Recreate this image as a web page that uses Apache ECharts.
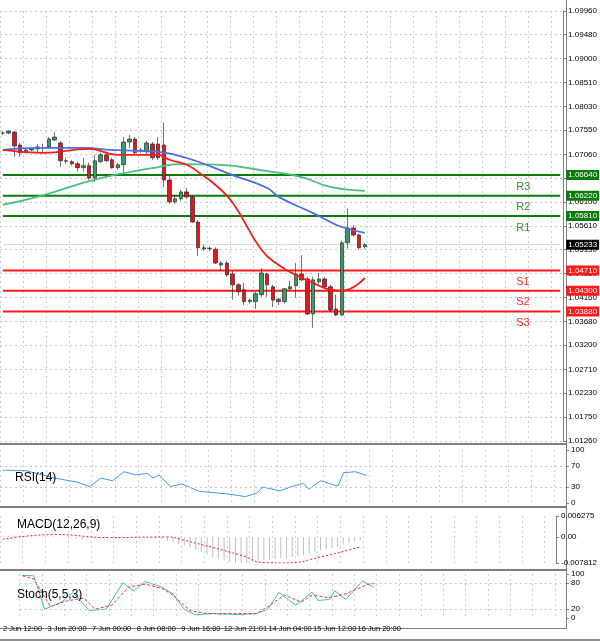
<!DOCTYPE html>
<html>
<head>
<meta charset="utf-8">
<script src="https://cdn.jsdelivr.net/npm/echarts@6/dist/echarts.min.js"></script>
<style>html,body{margin:0;padding:0;background:#fff}#main{width:600px;height:641px}</style>
</head>
<body>
<div id="main"></div>
<script>
// candles: [open, close, low, high]
const candles = [
  [1.0749,1.0749,1.0745,1.0753],[1.0749,1.0753,1.0747,1.0755],[1.0751,1.0723,1.0701,1.0753],[1.0725,1.0709,1.0701,1.0729],
  [1.0711,1.0715,1.0709,1.0717],[1.0715,1.0717,1.0713,1.0719],[1.0717,1.0721,1.0709,1.0727],[1.0719,1.0720,1.0709,1.0727],
  [1.0721,1.0737,1.0717,1.0741],[1.0735,1.0741,1.0733,1.0751],[1.0729,1.0693,1.0681,1.0733],[1.0693,1.0692,1.0687,1.0699],
  [1.0691,1.0687,1.0683,1.0695],[1.0687,1.0679,1.0671,1.0691],[1.0679,1.0683,1.0671,1.0699],[1.0683,1.0658,1.0654,1.0689],
  [1.0658,1.0693,1.0650,1.0705],[1.0691,1.0705,1.0689,1.0709],[1.0705,1.0693,1.0691,1.0707],[1.0695,1.0679,1.0677,1.0699],
  [1.0679,1.0685,1.0675,1.0689],[1.0685,1.0731,1.0669,1.0741],[1.0731,1.0737,1.0719,1.0745],[1.0737,1.0709,1.0707,1.0741],
  [1.0713,1.0715,1.0709,1.0719],[1.0711,1.0729,1.0707,1.0733],[1.0727,1.0699,1.0695,1.0731],[1.0727,1.0699,1.0695,1.0741],
  [1.0725,1.0654,1.0640,1.0770],[1.0654,1.0610,1.0606,1.0664],[1.0610,1.0616,1.0606,1.0624],[1.0616,1.0630,1.0612,1.0634],
  [1.0630,1.0620,1.0616,1.0638],[1.0620,1.0569,1.0567,1.0624],[1.0569,1.0517,1.0500,1.0573],[1.0517,1.0515,1.0511,1.0523],
  [1.0515,1.0516,1.0510,1.0520],[1.0514,1.0486,1.0484,1.0518],[1.0482,1.0486,1.0470,1.0490],[1.0486,1.0462,1.0458,1.0490],
  [1.0464,1.0442,1.0412,1.0470],[1.0442,1.0428,1.0420,1.0446],[1.0432,1.0408,1.0401,1.0446],[1.0408,1.0411,1.0404,1.0414],
  [1.0408,1.0424,1.0393,1.0428],[1.0422,1.0466,1.0418,1.0476],[1.0464,1.0442,1.0418,1.0466],[1.0438,1.0411,1.0397,1.0442],
  [1.0413,1.0408,1.0401,1.0416],[1.0408,1.0434,1.0404,1.0436],[1.0434,1.0438,1.0430,1.0450],[1.0440,1.0464,1.0416,1.0486],
  [1.0464,1.0452,1.0450,1.0502],[1.0454,1.0383,1.0381,1.0458],[1.0383,1.0452,1.0355,1.0458],[1.0448,1.0454,1.0444,1.0466],
  [1.0454,1.0438,1.0434,1.0458],[1.0438,1.0391,1.0387,1.0442],[1.0393,1.0381,1.0379,1.0422],[1.0381,1.0527,1.0379,1.0531],
  [1.0527,1.0557,1.0515,1.0597],[1.0557,1.0543,1.0539,1.0563],[1.0543,1.0517,1.0513,1.0545],[1.0519,1.0523,1.0515,1.0527]
];
// moving averages, sampled [index, value]
const maFast = [[0,1.0715],[7,1.0709],[15,1.0717],[20,1.0705],[27,1.0705],[29,1.0695],[32,1.0685],[34,1.0670],[37,1.0644],[40,1.0608],[45,1.0513],[48,1.0482],[51,1.0462],[54,1.0446],[57,1.0432],[59,1.0430],[63,1.0456]];
const maMid = [[0,1.0715],[6,1.0719],[14,1.0719],[19,1.0715],[27,1.0711],[30,1.0705],[34,1.0691],[40,1.0664],[46,1.0638],[48,1.0620],[54,1.0587],[57,1.0569],[59,1.0559],[63,1.0547]];
const maSlow = [[0,1.0604],[6,1.0620],[17,1.0658],[26,1.0678],[31,1.0686],[37,1.0685],[46,1.0672],[52,1.0660],[57,1.0640],[63,1.0632]];
const resist = [['R1',1.0581],['R2',1.0622],['R3',1.0664]];
const support = [['S1',1.0471],['S2',1.0430],['S3',1.0388]];
const lastPrice = 1.05233;
const priceTicks = [1.0996,1.0948,1.0900,1.0851,1.0803,1.0755,1.0706,1.0658,1.0610,1.0561,1.0513,1.0465,1.0416,1.0368,1.0320,1.0271,1.0223,1.0175,1.0126];

const rsi = [[0,62],[4,61],[9,47],[13,39],[15,31],[17,47],[19,42],[21,59],[23,53],[25,56],[26,47],[27,53],[29,31],[31,36],[34,22],[36,20],[39,17],[42,12],[44,19],[45,30],[48,23],[50,31],[52,37],[53,26],[55,42],[58,32],[59,57],[61,59],[63,52]];
const macdHist = [0.0003,0.0004,0.0004,0.0004,0.0003,0.0003,0.0002,0.0002,0.0002,0.0001,0.0001,0,
  -0.0004,-0.0005,-0.0006,-0.0005,-0.0004,-0.0003,-0.0002,
  -0.0001,0,0.0001,0,0,-0.0001,-0.0002,-0.0003,-0.0005,-0.0008,
  -0.0012,-0.0016,-0.0021,-0.0025,-0.0032,-0.0039,-0.0046,-0.0053,-0.0060,-0.0066,
  -0.0071,-0.0075,-0.0078,-0.0079,-0.0077,-0.0074,-0.0072,-0.0070,-0.0068,-0.0066,
  -0.0065,-0.0063,-0.0060,-0.0057,-0.0054,-0.0050,-0.0046,-0.0041,-0.0037,-0.0033,
  -0.0028,-0.0023,-0.0018,-0.0014,-0.0010];
const macdSignal = [[0,-0.0007],[9,0.0007],[19,-0.0002],[29,0],[32,-0.0010],[42,-0.0055],[46,-0.0077],[50,-0.0078],[56,-0.0060],[63,-0.0030]];
const stochK = [[0,97],[2,96],[4,20],[7,36],[9,58],[12,17],[15,20],[18,80],[20,61],[22,83],[25,70],[27,55],[29,20],[31,7],[34,10],[39,8],[42,10],[44,20],[46,58],[49,29],[52,59],[53,40],[55,42],[56,62],[58,42],[61,84],[63,70]];
const stochD = [[0,96],[2,89],[5,26],[8,39],[11,45],[13,20],[16,29],[19,70],[22,77],[25,67],[27,52],[30,17],[33,10],[42,10],[44,26],[47,52],[50,36],[52,52],[55,46],[58,55],[62,77],[63,78]];
const dateLabels = ['2 Jun 12:00','3 Jun 20:00','7 Jun 00:00','8 Jun 08:00','9 Jun 16:00','12 Jun 21:01','14 Jun 04:00','15 Jun 12:00','16 Jun 20:00'];

const SLOTS = 98;
const cats = [];
for (let i = 0; i < SLOTS; i++) cats.push(i % 8 === 0 && dateLabels[i / 8] ? dateLabels[i / 8] : '');

const chart = echarts.init(document.getElementById('main'));
const lab = {color: '#000', fontSize: 8, fontFamily: 'Liberation Sans'};
const dash = {show: true, lineStyle: {color: '#c8c8c8', type: [2, 3]}};

function xAx(gi, showLabel) {
  return {
    type: 'category', gridIndex: gi, data: cats, boundaryGap: true,
    axisLine: {show: false}, axisTick: {show: false},
    axisLabel: {show: showLabel, interval: 0, ...lab, fontSize: 7.5, margin: 7},
    splitLine: {show: true, interval: (i) => i % 4 === 0, lineStyle: {color: '#d0d0d0', type: [2, 3]}}
  };
}
function yAx(gi, min, max, vals, fmt) {
  return {
    type: 'value', gridIndex: gi, position: 'right', min: min, max: max, scale: true,
    axisLine: {show: true, lineStyle: {color: '#808080'}},
    axisTick: {show: true, customValues: vals, length: 3, lineStyle: {color: '#808080'}},
    axisLabel: {customValues: vals, formatter: fmt, ...lab, margin: 5, hideOverlap: false},
    splitLine: dash
  };
}

// one horizontal line series per level
function levelSeries(name, v, col, textCol, width) {
  return {
    type: 'line', xAxisIndex: 0, yAxisIndex: 0, silent: true, z: 1,
    data: [[0, v], {value: [SLOTS - 1, v], label: name ? {show: true, formatter: name, color: textCol, fontSize: 11,
      position: [-44, 6], fontFamily: 'Liberation Sans'} : {show: false}}],
    showSymbol: true, symbolSize: 0,
    lineStyle: {color: col, width: width},
    endLabel: {show: true, formatter: v.toFixed(5), color: '#fff', backgroundColor: name ? col : '#000',
      fontSize: 8, padding: [1, 2], distance: 6, fontFamily: 'Liberation Sans'}
  };
}
const levelList = [];
resist.forEach(r => levelList.push(levelSeries(r[0], r[1], '#0a7d0a', '#2d9a2d', 2)));
support.forEach(s => levelList.push(levelSeries(s[0], s[1], '#ff1a1a', '#ff2a2a', 2)));
levelList.push(levelSeries('', lastPrice, '#d8d8d8', '#000', 1));

const titleStyle = {fontSize: 12, fontWeight: 'normal', color: '#000', fontFamily: 'Liberation Sans'};
const option = {
  animation: false,
  backgroundColor: '#fff',
  title: [
    {text: 'RSI(14)', left: 10, top: 467, textStyle: titleStyle},
    {text: 'MACD(12,26,9)', left: 12, top: 514, textStyle: titleStyle},
    {text: 'Stoch(5,5,3)', left: 12, top: 584, textStyle: titleStyle}
  ],
  grid: [
    {left: 0, right: 34, top: 11, bottom: 200},
    {left: 0, right: 34, top: 450, bottom: 138},
    {left: 0, right: 34, top: 516, bottom: 78},
    {left: 0, right: 34, top: 574, bottom: 23}
  ],
  xAxis: [xAx(0, false), xAx(1, false), xAx(2, false), xAx(3, true)],
  yAxis: [
    yAx(0, 1.0126, 1.0996, priceTicks, v => v.toFixed(5)),
    {...yAx(1, 0, 100, [0, 30, 70, 100], v => String(v)), splitLine: {show: false}},
    {...yAx(2, -0.007812, 0.006275, [-0.007812, 0, 0.006275], v => v === 0 ? '0.00' : String(v)), splitLine: {show: false}},
    {...yAx(3, 0, 100, [0, 20, 80, 100], v => String(v)), splitLine: {show: false}}
  ],
  series: [
    ...levelList,
    {type: 'candlestick', xAxisIndex: 0, yAxisIndex: 0, data: candles, barWidth: 4, z: 3,
      itemStyle: {color: '#3a9a64', color0: '#e8141a', borderColor: '#1a1a1a', borderColor0: '#1a1a1a', borderWidth: 0.6}},
    {type: 'line', xAxisIndex: 0, yAxisIndex: 0, data: maSlow, smooth: true, showSymbol: false, z: 4, lineStyle: {color: '#4cc07e', width: 1.8}},
    {type: 'line', xAxisIndex: 0, yAxisIndex: 0, data: maMid, smooth: true, showSymbol: false, z: 4, lineStyle: {color: '#4a6fe3', width: 1.8}},
    {type: 'line', xAxisIndex: 0, yAxisIndex: 0, data: maFast, smooth: true, showSymbol: false, z: 4, lineStyle: {color: '#f0201a', width: 1.8}},
    {type: 'line', xAxisIndex: 1, yAxisIndex: 1, data: rsi, showSymbol: false, lineStyle: {color: '#3d9cf5', width: 1},
      markLine: {symbol: 'none', silent: true, label: {show: false}, lineStyle: {color: '#c8c8c8', type: [2, 3], width: 1}, data: [{yAxis: 30}, {yAxis: 70}]}},
    {type: 'bar', xAxisIndex: 2, yAxisIndex: 2, data: macdHist, barWidth: 1, itemStyle: {color: '#c0c0c0'}},
    {type: 'line', xAxisIndex: 2, yAxisIndex: 2, data: macdSignal, smooth: true, showSymbol: false, lineStyle: {color: '#ff2020', width: 1, type: [2, 2]}},
    {type: 'line', xAxisIndex: 3, yAxisIndex: 3, data: stochK, showSymbol: false, lineStyle: {color: '#3fbfbf', width: 1},
      markLine: {symbol: 'none', silent: true, label: {show: false}, lineStyle: {color: '#c8c8c8', type: [2, 3], width: 1}, data: [{yAxis: 20}, {yAxis: 80}]}},
    {type: 'line', xAxisIndex: 3, yAxisIndex: 3, data: stochD, showSymbol: false, lineStyle: {color: '#ff3030', width: 1, type: [3, 2]}}
  ],
  graphic: [
    {type: 'rect', shape: {x: 0, y: 443, width: 567, height: 2}, style: {fill: '#808080'}},
    {type: 'rect', shape: {x: 0, y: 506, width: 567, height: 2}, style: {fill: '#808080'}},
    {type: 'rect', shape: {x: 0, y: 569, width: 567, height: 2}, style: {fill: '#808080'}},
    {type: 'rect', shape: {x: 0, y: 628, width: 567, height: 1}, style: {fill: '#808080'}},
    {type: 'rect', shape: {x: 566, y: 0, width: 1, height: 629}, style: {fill: '#808080'}},
    {type: 'rect', shape: {x: 0, y: 639, width: 600, height: 2}, style: {fill: '#909090'}}
  ]
};
chart.setOption(option);
</script>
</body>
</html>
